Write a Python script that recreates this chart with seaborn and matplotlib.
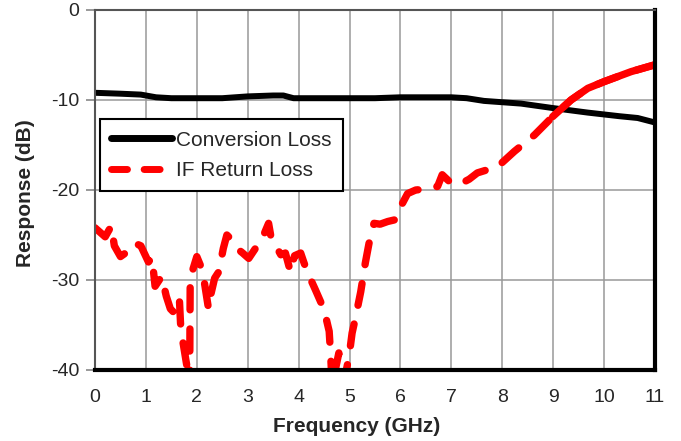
import numpy as np
import pandas as pd
import matplotlib
matplotlib.use("Agg")
import matplotlib.pyplot as plt
import seaborn as sns

# ---- data ----
conv_freq = [0.0, 0.5, 0.9, 1.2, 1.5, 2.0, 2.5, 3.0, 3.5, 3.7, 3.9, 4.5, 5.0, 5.5,
             6.0, 6.5, 7.0, 7.3, 7.64, 8.37, 9.0, 9.68, 10.3, 10.66, 11.0]
conv_loss = [-9.2, -9.3, -9.4, -9.7, -9.8, -9.8, -9.8, -9.6, -9.5, -9.5, -9.8, -9.8,
             -9.8, -9.8, -9.7, -9.7, -9.7, -9.8, -10.1, -10.4, -10.9, -11.4, -11.8,
             -12.0, -12.5]

if_freq = [0.00, 0.20, 0.32, 0.38, 0.50, 0.70, 0.78, 0.90, 1.05, 1.12, 1.18, 1.31,
           1.40, 1.48, 1.60, 1.66, 1.68, 1.71, 1.80, 1.84, 1.86, 1.87, 2.00, 2.08,
           2.13, 2.23, 2.28, 2.35, 2.43, 2.52, 2.59, 2.68, 2.79, 2.90, 3.02, 3.15,
           3.25, 3.35, 3.41, 3.45, 3.50, 3.58, 3.65, 3.74, 3.84, 3.92, 4.04, 4.10,
           4.17, 4.33, 4.50, 4.60, 4.63, 4.66, 4.72, 4.79, 4.85, 4.92, 4.99, 5.05,
           5.12, 5.22, 5.31, 5.38, 5.41, 5.48, 5.60, 5.75, 5.90, 6.00, 6.14, 6.30,
           6.50, 6.73, 6.82, 6.95, 7.15, 7.35, 7.51, 7.91, 8.24, 8.63, 8.99, 9.35,
           9.68, 10.00, 10.53, 10.99]
if_loss = [-24.2, -25.2, -24.0, -26.2, -27.4, -26.6, -25.9, -26.2, -28.0, -27.5,
           -30.7, -29.6, -31.8, -33.2, -33.9, -32.4, -34.8, -36.3, -39.4, -42.0,
           -41.0, -29.8, -27.4, -28.5, -29.6, -33.2, -31.5, -29.8, -29.1, -26.5,
           -25.0, -25.5, -26.5, -27.0, -27.6, -26.5, -25.9, -24.5, -23.7, -25.0,
           -25.3, -26.5, -27.2, -27.0, -29.1, -27.3, -27.0, -28.0, -29.1, -31.1,
           -33.3, -35.7, -38.5, -42.0, -40.0, -38.1, -41.0, -40.5, -38.5, -35.9,
           -34.1, -31.3, -28.1, -26.0, -25.2, -23.7, -23.8, -23.5, -23.3, -21.9,
           -20.4, -20.0, -19.9, -19.6, -18.3, -19.0, -19.4, -18.8, -18.1, -17.4,
           -15.7, -13.9, -11.85, -10.0, -8.7, -7.96, -6.85, -6.1]

x_ticks = list(range(0, 12))
y_ticks = [0, -10, -20, -30, -40]

conv_df = pd.DataFrame({"Frequency": conv_freq, "Response": conv_loss})
if_df = pd.DataFrame({"Frequency": if_freq, "Response": if_loss})
if_tail = if_df[if_df["Frequency"] >= 8.99]

sns.set_style("white")
plt.rcParams["font.family"] = ["Liberation Sans", "DejaVu Sans"]
plt.rcParams["axes.unicode_minus"] = False

fig = plt.figure(figsize=(6.81, 4.41), dpi=100)
ax = fig.add_axes([95 / 681, 1 - 370 / 441, 560 / 681, 360 / 441])

sns.lineplot(data=conv_df, x="Frequency", y="Response", ax=ax, color="black",
             lw=4.3, sort=False, estimator=None, label="Conversion Loss",
             solid_capstyle="round", solid_joinstyle="round")
sns.lineplot(data=if_df, x="Frequency", y="Response", ax=ax, color="#ff0000",
             lw=5.3, sort=False, estimator=None, label="IF Return Loss",
             dashes=False)
line = ax.lines[-1]
line.set_dashes((3.0, 2.6))
line.set_dash_capstyle("round")
line.set_dash_joinstyle("round")
sns.lineplot(data=if_tail, x="Frequency", y="Response", ax=ax, color="#ff0000",
             lw=5.3, sort=False, estimator=None, legend=False,
             solid_capstyle="round", solid_joinstyle="round")

ax.set_xlim(0, 11)
ax.set_ylim(-40, 0)
ax.set_xticks(x_ticks)
ax.set_yticks(y_ticks)
ax.grid(True, color="#999999", lw=1.1)
ax.set_axisbelow(True)

ax.tick_params(axis="x", length=0, pad=14, labelsize=14)
ax.tick_params(axis="y", length=6.5, width=1.2, color="#888888", pad=5,
               labelsize=14, left=True)

for side in ["left", "top"]:
    ax.spines[side].set_color("#555555")
    ax.spines[side].set_linewidth(1.5)
for side in ["right", "bottom"]:
    ax.spines[side].set_color("black")
    ax.spines[side].set_linewidth(3)
for s in ax.spines.values():
    s.set_visible(True)

ax.set_xlabel("Frequency (GHz)", fontsize=15, fontweight="bold")
ax.xaxis.set_label_coords((357 - 95) / 560, -0.13)
ax.set_ylabel("Response (dB)", fontsize=15, fontweight="bold")
ax.yaxis.set_label_coords(-(95 - 35) / 560, 0.49)

leg = ax.legend(loc="upper left", bbox_to_anchor=(0.009, 0.697),
                borderaxespad=0, fontsize=15, frameon=True, fancybox=False,
                handlelength=2.9, handletextpad=0.2, borderpad=0.55,
                labelspacing=0.55)
leg.get_frame().set_edgecolor("black")
leg.get_frame().set_linewidth(1.5)
leg.get_frame().set_alpha(1)
for h in leg.get_lines():
    h.set_linewidth(5)
leg_lines = leg.get_lines()
leg_lines[1].set_dashes((2.3, 2.4))
leg_lines[1].set_dash_capstyle("round")

fig.savefig("out.png", dpi=100)
